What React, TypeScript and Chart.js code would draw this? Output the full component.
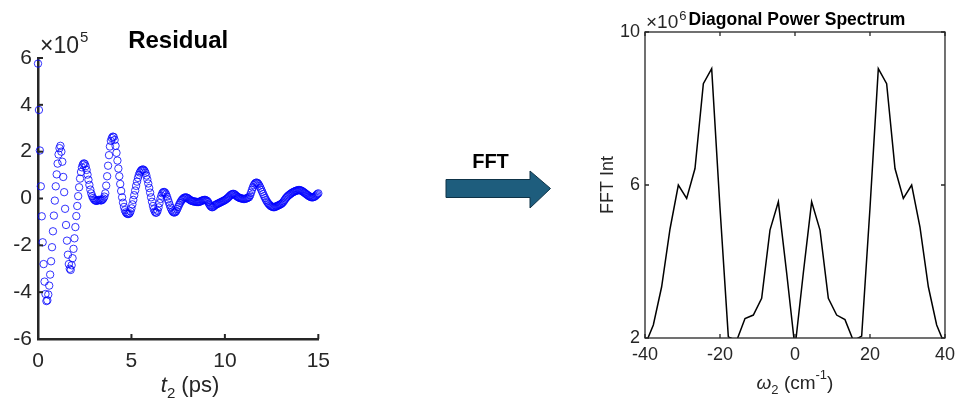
import React, { useEffect, useRef } from "react";
import { Chart, registerables } from "chart.js";

Chart.register(...registerables);

const FONT = "'Liberation Sans', Arial, Helvetica, sans-serif";
const AXIS_COLOR = "#262626";

// ---------- Left panel: residual (units of 1e5), sampled every 0.05 ps ----------
const TIME_STEP_PS = 0.05;
const residualValues: number[] = [
  // 0.00 - 0.95
  5.76, 3.78, 2.05, 0.52, -0.76, -1.87, -2.8, -3.55, -4.08, -4.38, -4.35, -4.1, -3.72, -3.25, -2.68, -2.08, -1.4, -0.73, -0.09, 0.52,
  // 1.00 - 1.95
  1.03, 1.49, 1.88, 2.15, 2.25, 2.0, 1.57, 0.92, 0.27, -0.44, -1.13, -1.8, -2.4, -2.8, -3.0, -3.05, -2.85, -2.55, -2.15, -1.7,
  // 2.00 - 2.95
  -1.22, -0.75, -0.32, 0.1, 0.48, 0.85, 1.13, 1.33, 1.45, 1.5, 1.48, 1.38, 1.22, 1.02, 0.8, 0.58, 0.38, 0.22, 0.1, 0.02,
  // 3.00 - 3.95
  -0.04, -0.08, -0.1, -0.1, -0.08, -0.06, -0.06, -0.08, -0.08, -0.05, 0.0, 0.08, 0.22, 0.55, 0.95, 1.4, 1.85, 2.22, 2.46, 2.58,
  // 4.00 - 4.95
  2.64, 2.63, 2.5, 2.25, 1.95, 1.62, 1.28, 0.95, 0.62, 0.32, 0.05, -0.18, -0.36, -0.5, -0.59, -0.64, -0.66, -0.66, -0.63, -0.55,
  // 5.00 - 5.95
  -0.42, -0.25, -0.06, 0.14, 0.34, 0.54, 0.72, 0.88, 1.01, 1.11, 1.18, 1.22, 1.24, 1.23, 1.18, 1.1, 0.98, 0.82, 0.64, 0.45,
  // 6.00 - 6.95
  0.25, 0.05, -0.14, -0.32, -0.46, -0.56, -0.61, -0.6, -0.52, -0.38, -0.2, -0.02, 0.12, 0.22, 0.27, 0.28, 0.25, 0.18, 0.08, -0.04,
  // 7.00 - 7.95
  -0.16, -0.28, -0.39, -0.48, -0.55, -0.59, -0.6, -0.58, -0.53, -0.45, -0.36, -0.27, -0.19, -0.12, -0.06, -0.02, 0.02, 0.04, 0.05, 0.04,
  // 8.00 - 8.95
  0.02, -0.01, -0.04, -0.07, -0.09, -0.11, -0.12, -0.13, -0.13, -0.14, -0.15, -0.15, -0.15, -0.14, -0.12, -0.1, -0.08, -0.07, -0.06, -0.06,
  // 9.00 - 9.95
  -0.08, -0.1, -0.15, -0.22, -0.29, -0.34, -0.37, -0.37, -0.34, -0.3, -0.27, -0.25, -0.23, -0.21, -0.19, -0.17, -0.15, -0.13, -0.11, -0.09,
  // 10.00 - 10.95
  -0.07, -0.04, -0.01, 0.02, 0.06, 0.1, 0.14, 0.17, 0.19, 0.2, 0.19, 0.16, 0.12, 0.09, 0.06, 0.04, 0.02, 0.01, 0.0, -0.01,
  // 11.00 - 11.95
  -0.02, -0.02, -0.01, 0.0, 0.02, 0.04, 0.06, 0.14, 0.25, 0.37, 0.48, 0.57, 0.63, 0.67, 0.68, 0.66, 0.61, 0.54, 0.46, 0.37,
  // 12.00 - 12.95
  0.28, 0.19, 0.1, 0.02, -0.06, -0.13, -0.19, -0.24, -0.28, -0.32, -0.34, -0.36, -0.37, -0.37, -0.36, -0.33, -0.32, -0.3, -0.28, -0.26,
  // 13.00 - 13.95
  -0.24, -0.21, -0.17, -0.12, -0.06, 0.0, 0.05, 0.09, 0.13, 0.16, 0.19, 0.22, 0.25, 0.27, 0.29, 0.31, 0.33, 0.34, 0.35, 0.36,
  // 14.00 - 14.95
  0.36, 0.35, 0.33, 0.31, 0.28, 0.25, 0.22, 0.19, 0.16, 0.13, 0.1, 0.08, 0.06, 0.05, 0.05, 0.06, 0.08, 0.11, 0.15, 0.19,
  // 15.00
  0.22,
];
const residualXTicks = [0, 5, 10, 15];
const residualYTicks = [-6, -4, -2, 0, 2, 4, 6];

// ---------- Right panel: diagonal power spectrum (units of 1e6) ----------
const frequencies = [
  -40, -37.78, -35.56, -33.33, -31.11, -28.89, -26.67, -24.44, -22.22, -20, -17.78, -15.56, -13.33, -11.11, -8.89, -6.67, -4.44, -2.22,
  0,
  2.22, 4.44, 6.67, 8.89, 11.11, 13.33, 15.56, 17.78, 20, 22.22, 24.44, 26.67, 28.89, 31.11, 33.33, 35.56, 37.78, 40,
];
const spectrumValues = [
  1.81, 2.34, 3.34, 4.85, 6.0, 5.65, 6.43, 8.65, 9.04, 5.4, 2.03, 1.93, 2.51, 2.6, 3.04, 4.82, 5.56, 3.7,
  1.74,
  3.7, 5.56, 4.82, 3.04, 2.6, 2.48, 1.93, 2.05, 5.4, 9.04, 8.65, 6.43, 5.65, 6.0, 4.9, 3.34, 2.34, 1.81,
];
const spectrumXTicks = [-40, -20, 0, 20, 40];
const spectrumYTicks = [2, 6, 10];

function setTicks(values: number[]) {
  return (scale: any) => {
    scale.ticks = values.map((value) => ({ value }));
  };
}

function drawPieces(
  ctx: CanvasRenderingContext2D,
  pieces: { text: string; font: string; dy: number }[],
  centerX: number,
  baseline: number
) {
  let total = 0;
  const widths = pieces.map((p) => {
    ctx.font = p.font;
    const w = ctx.measureText(p.text).width;
    total += w;
    return w;
  });
  let x = centerX - total / 2;
  ctx.textAlign = "left";
  ctx.textBaseline = "alphabetic";
  pieces.forEach((p, i) => {
    ctx.font = p.font;
    ctx.fillText(p.text, x, baseline + p.dy);
    x += widths[i];
  });
}

const residualDecor = {
  id: "residualDecor",
  afterDraw(chart: any) {
    const ctx: CanvasRenderingContext2D = chart.ctx;
    const a = chart.chartArea;
    const xs = chart.scales.x;
    const ys = chart.scales.y;
    ctx.save();
    ctx.strokeStyle = AXIS_COLOR;
    ctx.lineWidth = 2;
    residualYTicks.forEach((v) => {
      const y = ys.getPixelForValue(v);
      ctx.beginPath();
      ctx.moveTo(a.left, y);
      ctx.lineTo(a.left + 5, y);
      ctx.stroke();
    });
    residualXTicks.forEach((v) => {
      const x = xs.getPixelForValue(v);
      ctx.beginPath();
      ctx.moveTo(x, a.bottom);
      ctx.lineTo(x, a.bottom - 5);
      ctx.stroke();
    });
    // title
    ctx.fillStyle = "#000";
    ctx.font = `bold 24px ${FONT}`;
    ctx.textAlign = "center";
    ctx.textBaseline = "alphabetic";
    ctx.fillText("Residual", (a.left + a.right) / 2, 48);
    // exponent
    ctx.fillStyle = AXIS_COLOR;
    ctx.textAlign = "left";
    ctx.font = `23px ${FONT}`;
    const base = "\u00d710";
    ctx.fillText(base, a.left + 2, 53);
    const bw = ctx.measureText(base).width;
    ctx.font = `15px ${FONT}`;
    ctx.fillText("5", a.left + 3 + bw, 42);
    // x label
    drawPieces(
      ctx,
      [
        { text: "t", font: `italic 22px ${FONT}`, dy: 0 },
        { text: "2", font: `15px ${FONT}`, dy: 6 },
        { text: " (ps)", font: `22px ${FONT}`, dy: 0 },
      ],
      190,
      392
    );
    ctx.restore();
  },
};

const spectrumDecor = {
  id: "spectrumDecor",
  afterDraw(chart: any) {
    const ctx: CanvasRenderingContext2D = chart.ctx;
    const a = chart.chartArea;
    const xs = chart.scales.x;
    const ys = chart.scales.y;
    ctx.save();
    ctx.strokeStyle = AXIS_COLOR;
    ctx.lineWidth = 1.3;
    ctx.strokeRect(a.left, a.top, a.right - a.left, a.bottom - a.top);
    spectrumXTicks.forEach((v) => {
      const x = xs.getPixelForValue(v);
      ctx.beginPath();
      ctx.moveTo(x, a.bottom);
      ctx.lineTo(x, a.bottom - 4);
      ctx.moveTo(x, a.top);
      ctx.lineTo(x, a.top + 4);
      ctx.stroke();
    });
    spectrumYTicks.forEach((v) => {
      const y = ys.getPixelForValue(v);
      ctx.beginPath();
      ctx.moveTo(a.left, y);
      ctx.lineTo(a.left + 4, y);
      ctx.moveTo(a.right, y);
      ctx.lineTo(a.right - 4, y);
      ctx.stroke();
    });
    // title
    ctx.fillStyle = "#000";
    ctx.font = `bold 17.5px ${FONT}`;
    ctx.textAlign = "center";
    ctx.textBaseline = "alphabetic";
    ctx.fillText("Diagonal Power Spectrum", (a.left + a.right) / 2 + 2, 25);
    // exponent
    ctx.fillStyle = AXIS_COLOR;
    ctx.textAlign = "left";
    ctx.font = `19px ${FONT}`;
    const base = "\u00d710";
    ctx.fillText(base, a.left + 1, 28);
    const bw = ctx.measureText(base).width;
    ctx.font = `13px ${FONT}`;
    ctx.fillText("6", a.left + 2 + bw, 20);
    // y label
    ctx.save();
    ctx.translate(18, (a.top + a.bottom) / 2);
    ctx.rotate(-Math.PI / 2);
    ctx.font = `18px ${FONT}`;
    ctx.textAlign = "center";
    ctx.textBaseline = "middle";
    ctx.fillText("FFT Int", 0, 0);
    ctx.restore();
    // x label
    drawPieces(
      ctx,
      [
        { text: "\u03c9", font: `italic 19px ${FONT}`, dy: 0 },
        { text: "2", font: `13px ${FONT}`, dy: 5 },
        { text: " (cm", font: `19px ${FONT}`, dy: 0 },
        { text: "-1", font: `13px ${FONT}`, dy: -10 },
        { text: ")", font: `19px ${FONT}`, dy: 0 },
      ],
      (a.left + a.right) / 2,
      389
    );
    ctx.restore();
  },
};

export default function App() {
  const leftRef = useRef<HTMLCanvasElement>(null);
  const rightRef = useRef<HTMLCanvasElement>(null);

  useEffect(() => {
    const left = new Chart(leftRef.current as HTMLCanvasElement, {
      type: "scatter",
      data: {
        datasets: [
          {
            data: residualValues.map((v, i) => ({ x: i * TIME_STEP_PS, y: v })),
            pointStyle: "circle",
            pointRadius: 3.7,
            pointBorderWidth: 1,
            pointBorderColor: "rgba(0,0,255,0.8)",
            pointBackgroundColor: "rgba(0,0,0,0)",
            clip: false,
          } as any,
        ],
      },
      options: {
        animation: false,
        responsive: false,
        devicePixelRatio: 1,
        layout: { padding: { left: 0, right: 20, top: 58, bottom: 0 } },
        plugins: { legend: { display: false }, tooltip: { enabled: false }, title: { display: false } },
        scales: {
          x: {
            type: "linear",
            min: 0,
            max: 15,
            afterBuildTicks: setTicks(residualXTicks),
            afterFit: (s: any) => {
              s.height = 63;
            },
            ticks: {
              font: { family: FONT, size: 21 },
              color: AXIS_COLOR,
              padding: 10,
              maxRotation: 0,
              autoSkip: false,
              callback: (v: any) => String(v),
            },
            grid: { display: false, drawTicks: false },
            border: { display: true, color: AXIS_COLOR, width: 2.5 },
          },
          y: {
            type: "linear",
            min: -6,
            max: 6,
            afterBuildTicks: setTicks(residualYTicks),
            afterFit: (s: any) => {
              s.width = 38;
            },
            ticks: {
              font: { family: FONT, size: 21 },
              color: AXIS_COLOR,
              padding: 6,
              autoSkip: false,
              callback: (v: any) => String(v),
            },
            grid: { display: false, drawTicks: false },
            border: { display: true, color: AXIS_COLOR, width: 2.5 },
          },
        },
      } as any,
      plugins: [residualDecor],
    });

    const right = new Chart(rightRef.current as HTMLCanvasElement, {
      type: "line",
      data: {
        datasets: [
          {
            data: frequencies.map((f, i) => ({ x: f, y: spectrumValues[i] })),
            borderColor: "#000",
            borderWidth: 1.5,
            pointRadius: 0,
            tension: 0,
            fill: false,
          },
        ],
      },
      options: {
        animation: false,
        responsive: false,
        devicePixelRatio: 1,
        layout: { padding: { left: 0, right: 11, top: 32, bottom: 0 } },
        plugins: { legend: { display: false }, tooltip: { enabled: false }, title: { display: false } },
        scales: {
          x: {
            type: "linear",
            min: -40,
            max: 40,
            afterBuildTicks: setTicks(spectrumXTicks),
            afterFit: (s: any) => {
              s.height = 64;
            },
            ticks: {
              font: { family: FONT, size: 18 },
              color: AXIS_COLOR,
              padding: 6,
              maxRotation: 0,
              autoSkip: false,
              callback: (v: any) => String(v),
            },
            grid: { display: false, drawTicks: false },
            border: { display: false },
          },
          y: {
            type: "linear",
            min: 2,
            max: 10,
            afterBuildTicks: setTicks(spectrumYTicks),
            afterFit: (s: any) => {
              s.width = 55;
            },
            ticks: {
              font: { family: FONT, size: 18 },
              color: AXIS_COLOR,
              padding: 5,
              autoSkip: false,
              callback: (v: any) => String(v),
            },
            grid: { display: false, drawTicks: false },
            border: { display: false },
          },
        },
      } as any,
      plugins: [spectrumDecor],
    });

    return () => {
      left.destroy();
      right.destroy();
    };
  }, []);

  return (
    <div style={{ position: "absolute", left: 0, top: 0, width: 961, height: 402, background: "#fff", overflow: "hidden" }}>
      <canvas ref={leftRef} width={340} height={402} style={{ position: "absolute", left: 0, top: 0 }} />
      <svg width={961} height={402} style={{ position: "absolute", left: 0, top: 0, pointerEvents: "none" }}>
        <polygon
          points="446,179.5 530,179.5 530,171 550.5,188.5 530,208 530,197.5 446,197.5"
          fill="#1e5d7d"
          stroke="#0e3347"
          strokeWidth={1}
        />
        <text x={490.5} y={168} textAnchor="middle" fontFamily={FONT} fontWeight="bold" fontSize={20} fill="#000">
          FFT
        </text>
      </svg>
      <canvas ref={rightRef} width={371} height={402} style={{ position: "absolute", left: 590, top: 0 }} />
    </div>
  );
}
